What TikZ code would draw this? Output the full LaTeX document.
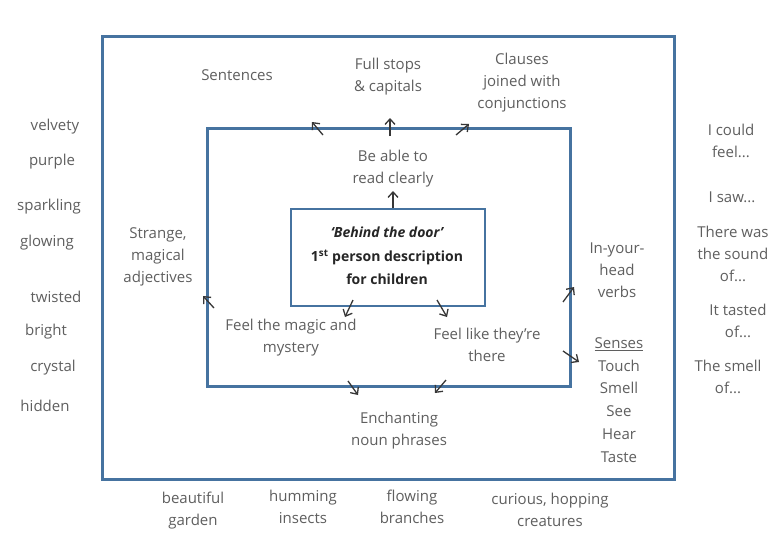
\documentclass[tikz,border=0pt]{standalone}
\usepackage{fontspec}
\setmainfont{Open Sans}
\usetikzlibrary{arrows.meta}
\definecolor{frame}{RGB}{70,115,160}
\definecolor{txt}{RGB}{95,95,95}
\definecolor{arrc}{RGB}{55,55,55}
\begin{document}
\begin{tikzpicture}[x=1pt,y=-1pt,
 lbl/.style={align=center,text=txt,font=\fontsize{15}{22}\selectfont,inner sep=0pt},
 boxr/.style={draw=frame,line width=2.8pt,anchor=north west,inner sep=0pt},
 arr/.style={draw=arrc,line width=1.3pt,-{Straight Barb[length=5.5pt,width=10pt]}}]
\useasboundingbox (0,0) rectangle (769,538);
\fill[white] (0,0) rectangle (769,538);
% boxes
\node[boxr,minimum width=572pt,minimum height=443pt] (outer) at (101,35) {};
\node[boxr,minimum width=363pt,minimum height=258pt] (inner) at (206,127) {};
\node[boxr,line width=2.4pt,minimum width=194pt,minimum height=97pt] (core) at (290,208) {};
% centre text
\node[align=center,inner sep=0pt,text=black!85,font=\bfseries\fontsize{14}{23.5}\selectfont] (title) at (387,256)
 {\itshape `Behind the door'\\ 1\textsuperscript{st} person description\\ for children};
% top labels
\node[lbl] (sent) at (237,75) {Sentences};
\node[lbl] (stops) at (388,77) {Full stops\\ \& capitals};
\node[lbl] (claus) at (522,83) {Clauses\\ joined with\\ conjunctions};
\node[lbl] (read) at (393,169) {Be able to\\ read clearly};
% left/right inside
\node[lbl] (strange) at (158,257) {Strange,\\ magical\\ adjectives};
\node[lbl] (verbs) at (617,270) {In-your-\\ head\\ verbs};
\node[lbl] (magic) at (291,338) {Feel the magic and\\ mystery};
\node[lbl] (there) at (487,345) {Feel like they're\\ there};
\node[lbl,font=\fontsize{15}{22.8}\selectfont] (senses) at (619,400) {\underline{Senses}\\ Touch\\ Smell\\ See\\ Hear\\ Taste};
\node[lbl] (noun) at (399,431) {Enchanting\\ noun phrases};
% left word list
\node[lbl] (w1) at (55,127) {velvety};
\node[lbl] (w2) at (52,162) {purple};
\node[lbl] (w3) at (49,207) {sparkling};
\node[lbl] (w4) at (47,243) {glowing};
\node[lbl] (w5) at (56,297) {twisted};
\node[lbl] (w6) at (46,332) {bright};
\node[lbl] (w7) at (53,368) {crystal};
\node[lbl] (w8) at (45,406) {hidden};
% right phrase list
\node[lbl] (p1) at (731,141) {I could\\ feel...};
\node[lbl] (p2) at (732,197) {I saw...};
\node[lbl] (p3) at (733,254) {There was\\ the sound\\ of...};
\node[lbl] (p4) at (738,321) {It tasted\\ of...};
\node[lbl] (p5) at (728,377) {The smell\\ of...};
% bottom list
\node[lbl] (b1) at (193,511) {beautiful\\ garden};
\node[lbl] (b2) at (303,507) {humming\\ insects};
\node[lbl] (b3) at (412,507) {flowing\\ branches};
\node[lbl] (b4) at (550,510) {curious, hopping\\ creatures};
% arrow coordinates
\coordinate (a1s) at (323,135); \coordinate (a1e) at (312,122);
\coordinate (a2s) at (390,136); \coordinate (a2e) at (390,118);
\coordinate (a3s) at (456,135); \coordinate (a3e) at (469,124);
\coordinate (a4e) at (393,191);
\coordinate (a5s) at (214,308); \coordinate (a5e) at (203,296);
\coordinate (a6s) at (353,300); \coordinate (a6e) at (345,317);
\coordinate (a7s) at (437,300); \coordinate (a7e) at (447,317);
\coordinate (a8s) at (563,302); \coordinate (a8e) at (574,287);
\coordinate (a9s) at (563,351); \coordinate (a9e) at (579,362);
\coordinate (a10s) at (348,381); \coordinate (a10e) at (358,395);
\coordinate (a11s) at (446,380); \coordinate (a11e) at (435,393);
\draw[arr] (a1s) -- (a1e);
\draw[arr] (a2s) -- (a2e);
\draw[arr] (a3s) -- (a3e);
\draw[arr] (core.north -| a4e) -- (a4e);
\draw[arr] (a5s) -- (a5e);
\draw[arr] (a6s) -- (a6e);
\draw[arr] (a7s) -- (a7e);
\draw[arr] (a8s) -- (a8e);
\draw[arr] (a9s) -- (a9e);
\draw[arr] (a10s) -- (a10e);
\draw[arr] (a11s) -- (a11e);
\end{tikzpicture}
\end{document}
